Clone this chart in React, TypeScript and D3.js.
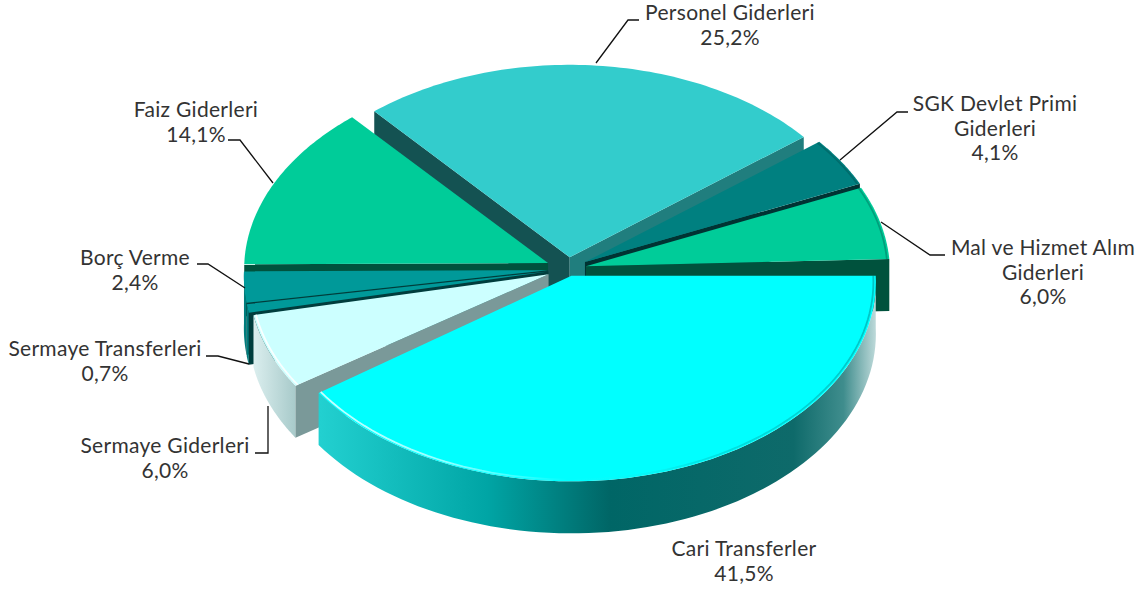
import React from "react";
import * as d3 from "d3";

const W = 1148, H = 592;
const categories = ["Personel Giderleri", "SGK Devlet Primi Giderleri", "Mal ve Hizmet Alım Giderleri", "Cari Transferler", "Sermaye Giderleri", "Sermaye Transferleri", "Borç Verme", "Faiz Giderleri"];
const values = [25.2, 4.1, 6.0, 41.5, 6.0, 0.7, 2.4, 14.1];
const topColors = ["#33cccc", "#008080", "#00cc99", "#00ffff", "#ccffff", "#009999", "#009999", "#00cc99"];
const explode = [18, 20, 18.5, 11, 21, 20, 20, 22];
// the original's 3D view distorts the slice edges and radii slightly
const startNudge = [-1.2, 1.2, 1, 2.9, -0.4, 0, 0, 0.4];
const endNudge = [1.1, 1, 0.9, -1.7, 0, 0, 0.4, -1.4];
const radiusScale = [1, 1, 1, 1, 0.985, 1, 1, 1];
// draw order back to front, indexes into categories
const paintOrder = [0, 7, 1, 6, 5, 2, 4, 3];
// shade for the cut face at the start and at the end of each slice
const startShade = [0.4, 0.4, 0.4, 0.4, 0.6, 0.4, 0.4, 0.4];
const endShade = [0.62, 0.4, 0.4, 0.4, 0.6, 0.4, 0.4, 0.4];
const rimLit = [false, true, true, true, true, false, false, false];

const labelLines = [
  ["Personel Giderleri", "25,2%"],
  ["SGK Devlet Primi", "Giderleri", "4,1%"],
  ["Mal ve Hizmet Alım", "Giderleri", "6,0%"],
  ["Cari Transferler", "41,5%"],
  ["Sermaye Giderleri", "6,0%"],
  ["Sermaye Transferleri", "0,7%"],
  ["Borç Verme", "2,4%"],
  ["Faiz Giderleri", "14,1%"],
];
const labelCx = [730, 995, 1043, 744, 165, 105, 135, 196];
const labelTop = [20, 111, 255, 556, 453, 356, 265, 117];
const leaders: ([number, number][] | null)[] = [
  [[596, 63], [628, 20], [639, 20]],
  [[840, 160], [897, 112], [908, 112]],
  [[881, 222], [930, 255], [945, 255]],
  null,
  [[268, 406], [268, 453], [255, 453]],
  [[249, 364], [218, 356], [206, 356]],
  [[245, 288], [208, 264], [197, 264]],
  [[273, 183], [240, 140], [228, 140]],
];

const cx = 568, cy = 269, R = 304, tilt = 0.655, persp = 0.03, depth = 52;
const deg = Math.PI / 180;

function shade(color: string, f: number) {
  const c = d3.rgb(color);
  return d3.rgb(c.r * f, c.g * f, c.b * f).formatHex();
}

export default function App() {
  const arcs = d3.pie<number>().sort(null).startAngle(-40 * deg).endAngle(320 * deg)(values);
  const line = d3.line<[number, number]>();

  const project = (a: number, r: number, mid: number, e: number, z: number): [number, number] => {
    const X = r * Math.sin(a) + e * Math.sin(mid);
    const Y = -r * Math.cos(a) - e * Math.cos(mid);
    const s = 1 + persp * Y / R;
    return [cx + X * s, cy + tilt * Y * s + z];
  };
  const rim = (a0: number, a1: number, r: number, mid: number, e: number, z: number) =>
    d3.range(0, 81).map(i => project(a0 + (a1 - a0) * i / 80, r, mid, e, z));

  return (
    <svg width={W} height={H} style={{ position: "absolute", left: 0, top: 0 }} fontFamily="Lato, 'Open Sans', sans-serif">
      <defs>
        <linearGradient id="cariWall" gradientUnits="userSpaceOnUse" x1={320} x2={877} y1={0} y2={0}>
          <stop offset="0" stopColor="#22d0d0" />
          <stop offset="0.3" stopColor="#00a5a5" />
          <stop offset="0.52" stopColor="#006666" />
          <stop offset="0.85" stopColor="#0e6a6a" />
          <stop offset="0.94" stopColor="#3f8d8d" />
          <stop offset="1" stopColor="#c2dcdc" />
        </linearGradient>
        <linearGradient id="sgWall" gradientUnits="userSpaceOnUse" x1={250} x2={297} y1={0} y2={0}>
          <stop offset="0" stopColor="#dff1f1" />
          <stop offset="1" stopColor="#a6c9c9" />
        </linearGradient>
        <linearGradient id="rimLight" gradientUnits="userSpaceOnUse" x1={245} x2={890} y1={0} y2={0}>
          <stop offset="0" stopColor="#ffffff" stopOpacity="0.9" />
          <stop offset="0.3" stopColor="#ffffff" stopOpacity="0.6" />
          <stop offset="0.5" stopColor="#ffffff" stopOpacity="0" />
          <stop offset="0.7" stopColor="#003333" stopOpacity="0.12" />
          <stop offset="1" stopColor="#003333" stopOpacity="0.3" />
        </linearGradient>
      </defs>
      {paintOrder.map(i => {
        const d = arcs[i];
        const a0 = d.startAngle + startNudge[i] * deg, a1 = d.endAngle + endNudge[i] * deg;
        const mid = (d.startAngle + d.endAngle) / 2, e = explode[i], r = R * radiusScale[i];
        const apex = project(0, 0, mid, e, 0), apexB = project(0, 0, mid, e, depth);
        const p0 = project(a0, r, mid, e, 0), p0B = project(a0, r, mid, e, depth);
        const p1 = project(a1, r, mid, e, 0), p1B = project(a1, r, mid, e, depth);
        const top = rim(a0, a1, r, mid, e, 0);
        const w0 = Math.max(a0, 90 * deg), w1 = Math.min(a1, 270 * deg);
        const wallFill = i === 3 ? "url(#cariWall)" : i === 4 ? "url(#sgWall)" : shade(topColors[i], i === 5 || i === 6 ? 0.82 : 0.42);
        return (
          <g key={categories[i]}>
            {w1 > w0 && (
              <path d={line([...rim(w0, w1, r, mid, e, 0), ...rim(w0, w1, r, mid, e, depth).reverse()]) + "Z"} fill={wallFill} />
            )}
            {Math.sin(a0) < 0 && <path d={line([apex, p0, p0B, apexB]) + "Z"} fill={shade(topColors[i], startShade[i])} />}
            {Math.sin(a1) > 0 && <path d={line([apex, p1, p1B, apexB]) + "Z"} fill={shade(topColors[i], endShade[i])} />}
            <path d={line([apex, ...top]) + "Z"} fill={topColors[i]} />
            {rimLit[i] && <path d={line(rim(a0, a1, r - 2.5, mid, e, 0))!} fill="none" stroke="url(#rimLight)" strokeWidth={1.8} />}
          </g>
        );
      })}
      {leaders.map((pts, i) => pts && (
        <path key={i} d={line(pts)!} fill="none" stroke="#111" strokeWidth={1.3} />
      ))}
      {labelLines.map((lines, i) => (
        <text key={categories[i]} textAnchor="middle" fontSize={21} letterSpacing={0.3} fill="#333">
          {lines.map((t, j) => (
            <tspan key={j} x={labelCx[i]} y={labelTop[i] + j * 24.7}>{t}</tspan>
          ))}
        </text>
      ))}
    </svg>
  );
}
